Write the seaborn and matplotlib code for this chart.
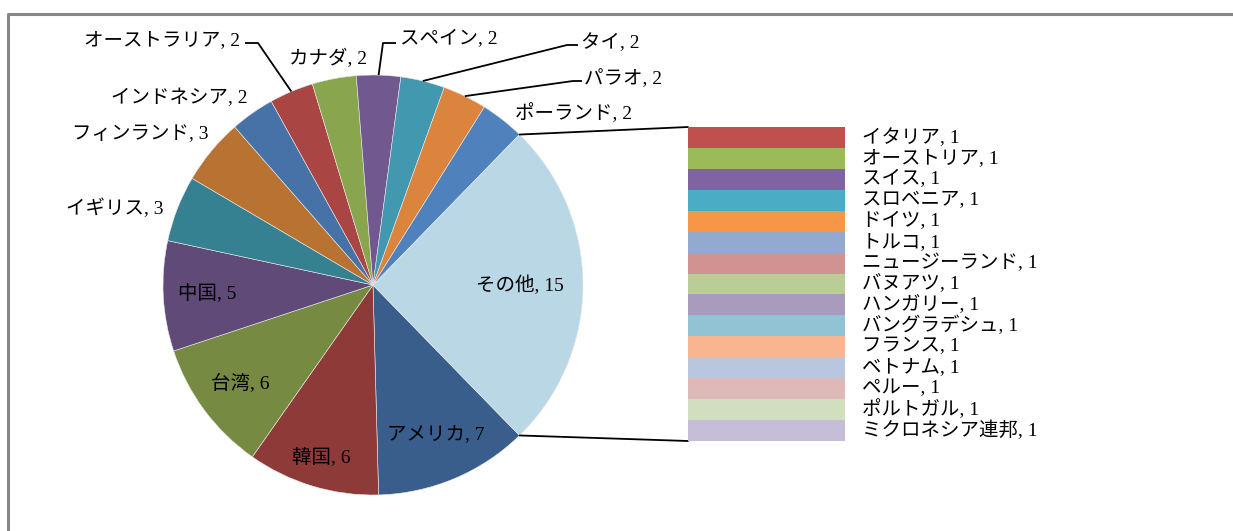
import numpy as np
import matplotlib
matplotlib.use("Agg")
import matplotlib.pyplot as plt
import seaborn as sns

sns.set_theme(style="white")
plt.rcParams['font.family'] = ['Liberation Serif', 'Noto Sans CJK JP', 'DejaVu Sans']

# ---- data ----
main_labels = ["アメリカ", "韓国", "台湾", "中国", "イギリス", "フィンランド", "インドネシア",
               "オーストラリア", "カナダ", "スペイン", "タイ", "パラオ", "ポーランド", "その他"]
main_values = [7, 6, 6, 5, 3, 3, 2, 2, 2, 2, 2, 2, 2, 15]
main_colors = ["#3A5E8C", "#8E3A38", "#778A41", "#5F4A78", "#358192", "#B87232", "#4672A8",
               "#A94643", "#89A54E", "#71588F", "#4198AF", "#DB843D", "#4F81BD", "#B9D7E4"]

other_labels = ["イタリア", "オーストリア", "スイス", "スロベニア", "ドイツ", "トルコ",
                "ニュージーランド", "バヌアツ", "ハンガリー", "バングラデシュ", "フランス",
                "ベトナム", "ペルー", "ポルトガル", "ミクロネシア連邦"]
other_values = [1] * 15
other_colors = ["#C0504D", "#9BBB59", "#8064A2", "#4BACC6", "#F79646", "#93A9CF", "#D19392",
                "#B9CD96", "#A99BBD", "#91C3D5", "#F9B590", "#B9C6DF", "#DFB8B8", "#D1DFBE",
                "#C6BED7"]

W, H = 1233, 531
fig = plt.figure(figsize=(W / 100, H / 100), dpi=100)
ax = fig.add_axes([0, 0, 1, 1])

def Y(y):  # image y -> data y
    return H - y

cx, cy, R = 373, Y(285), 210
total = sum(main_values)
start = -main_values[-1] / total * 180.0

wedges, _ = ax.pie(main_values, colors=main_colors, startangle=start, counterclock=False,
                   center=(cx, cy), radius=R,
                   wedgeprops=dict(edgecolor="#EAEAEA", linewidth=0.4))
ax.set_xlim(0, W)
ax.set_ylim(0, H)
ax.set_aspect("auto")
ax.axis("off")

fs = 14

def mid_angle(w):
    return np.deg2rad((w.theta1 + w.theta2) / 2)

# inside labels
inside = {"その他": 0.70, "アメリカ": 0.77, "韓国": 0.86, "台湾": 0.79, "中国": 0.79}
for w, lab, v in zip(wedges, main_labels, main_values):
    if lab in inside:
        a = mid_angle(w)
        r = inside[lab] * R
        ax.text(cx + r * np.cos(a), cy + r * np.sin(a), f"{lab}, {v}",
                ha="center", va="center", fontsize=fs, color="black")

# outside labels: (x, y, ha) in image pixels
outside = {
    "イギリス": (163, 208, "right"),
    "フィンランド": (209, 134, "right"),
    "インドネシア": (248, 98, "right"),
    "オーストラリア": (240, 40, "right"),
    "カナダ": (328, 59, "center"),
    "スペイン": (400, 39, "left"),
    "タイ": (581, 43, "left"),
    "パラオ": (584, 79, "left"),
    "ポーランド": (515, 113, "left"),
}
leaders = {
    "オーストラリア": [(258, 43), (245, 43)],
    "スペイン": [(383, 43), (396, 43)],
    "タイ": [(567, 45), (578, 45)],
    "パラオ": [(573, 81), (582, 81)],
}
for w, lab, v in zip(wedges, main_labels, main_values):
    if lab in outside:
        x, y, ha = outside[lab]
        ax.text(x, Y(y), f"{lab}, {v}", ha=ha, va="center", fontsize=fs, color="black")
    if lab in leaders:
        a = mid_angle(w)
        pts = [(cx + R * np.cos(a), cy + R * np.sin(a))] + [(px, Y(py)) for px, py in leaders[lab]]
        xs, ys = zip(*pts)
        ax.plot(xs, ys, color="black", lw=1.3, solid_capstyle="butt")

# ---- secondary stacked bar ----
bx0, bx1, by_top, by_bot = 688, 845, 127, 441
ax2 = fig.add_axes([bx0 / W, (H - by_bot) / H, (bx1 - bx0) / W, (by_bot - by_top) / H])
bottoms = np.concatenate([[0], np.cumsum(other_values)[:-1]])
ax2.bar([0] * len(other_values), other_values, bottom=bottoms, width=1.0,
        color=other_colors, edgecolor="none")
ax2.set_xlim(-0.5, 0.5)
ax2.set_ylim(sum(other_values), 0)
ax2.axis("off")
lab_x = (862 - bx0) / (bx1 - bx0)
for b, v, lab in zip(bottoms, other_values, other_labels):
    ax2.text(lab_x, b + v / 2, f"{lab}, {v}", transform=ax2.get_yaxis_transform(),
             ha="left", va="center", fontsize=fs, color="black", clip_on=False)

# connector lines from pie to bar
other_w = wedges[-1]
for ang, by in [(other_w.theta1, by_bot), (other_w.theta2, by_top)]:
    a = np.deg2rad(ang)
    ax.plot([cx + R * np.cos(a), bx0], [cy + R * np.sin(a), Y(by)], color="black", lw=1.3)

# chart frame
ax.plot([8, 8, W + 5], [-5, Y(14), Y(14)], color="#878787", lw=2.2, clip_on=False)

fig.savefig("out.png", dpi=100, facecolor="white")
